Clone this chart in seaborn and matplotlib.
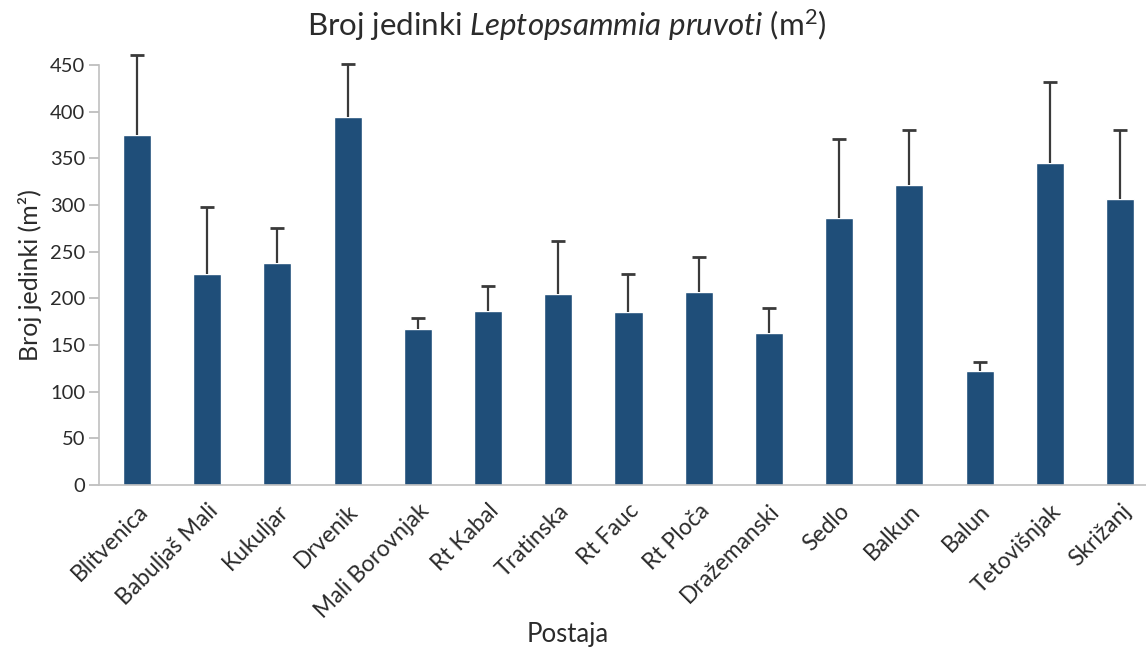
import numpy as np
import pandas as pd
import matplotlib
matplotlib.use("Agg")
import matplotlib.pyplot as plt
import seaborn as sns

stations = ["Blitvenica", "Babuljaš Mali", "Kukuljar", "Drvenik", "Mali Borovnjak",
            "Rt Kabal", "Tratinska", "Rt Fauc", "Rt Ploča", "Dražemanski",
            "Sedlo", "Balkun", "Balun", "Tetovišnjak", "Skrižanj"]
means = [375, 226, 238, 394, 167, 186, 205, 185, 207, 163, 286, 321, 122, 345, 307]
upper = [461, 298, 275, 451, 179, 213, 262, 226, 244, 190, 371, 380, 132, 432, 380]
yticks = [0, 50, 100, 150, 200, 250, 300, 350, 400, 450]

BAR = "#1f4e79"
TXT = "#2b2b2b"

sns.set_theme(style="white")
plt.rcParams["font.family"] = ["Lato", "DejaVu Sans"]
plt.rcParams["mathtext.fontset"] = "custom"
plt.rcParams["mathtext.rm"] = "Lato"
plt.rcParams["mathtext.it"] = "Lato:italic"

df = pd.DataFrame({"Postaja": stations, "Broj": means})

fig = plt.figure(figsize=(11.46, 6.51), dpi=100)
ax = fig.add_axes([0.0864, 0.255, 0.9136, 0.645])

sns.barplot(ax=ax, data=df, x="Postaja", y="Broj", color=BAR, width=0.4,
            saturation=1, errorbar=None)

# only the upper half of the error bar is drawn
err = np.array(upper) - np.array(means)
_, caps, _ = ax.errorbar(np.arange(len(stations)), means,
                         yerr=[np.zeros(len(err)), err], fmt="none",
                         ecolor="#3a3a3a", elinewidth=1.6, capsize=5,
                         capthick=2, clip_on=False)
caps[0].set_visible(False)
for c in caps:
    c.set_clip_on(False)

ax.set_xlim(-0.54, 14.37)
ax.set_ylim(0, 450)
ax.set_yticks(yticks)
ax.tick_params(axis="y", which="both", left=True, length=7, color="#bbbbbb",
               labelsize=14.5, labelcolor=TXT, pad=3)
ax.tick_params(axis="x", bottom=False, labelsize=16.5, labelcolor=TXT, pad=5)
plt.setp(ax.get_xticklabels(), rotation=45, ha="right", rotation_mode="anchor")

for s in ["top", "right"]:
    ax.spines[s].set_visible(False)
for s in ["left", "bottom"]:
    ax.spines[s].set_color("#c0c0c0")
    ax.spines[s].set_linewidth(1.2)

ax.set_xlabel("")
ax.set_ylabel("Broj jedinki (m²)", fontsize=18, color=TXT, labelpad=6)

fig.text(0.495, 0.962, r"Broj jedinki $\it{Leptopsammia\ pruvoti}$ (m$^2$)",
         ha="center", va="center", fontsize=22.5, color=TXT)
fig.text(0.495, 0.025, "Postaja", ha="center", va="center", fontsize=18.5, color=TXT)

plt.savefig("out.png", dpi=100)
